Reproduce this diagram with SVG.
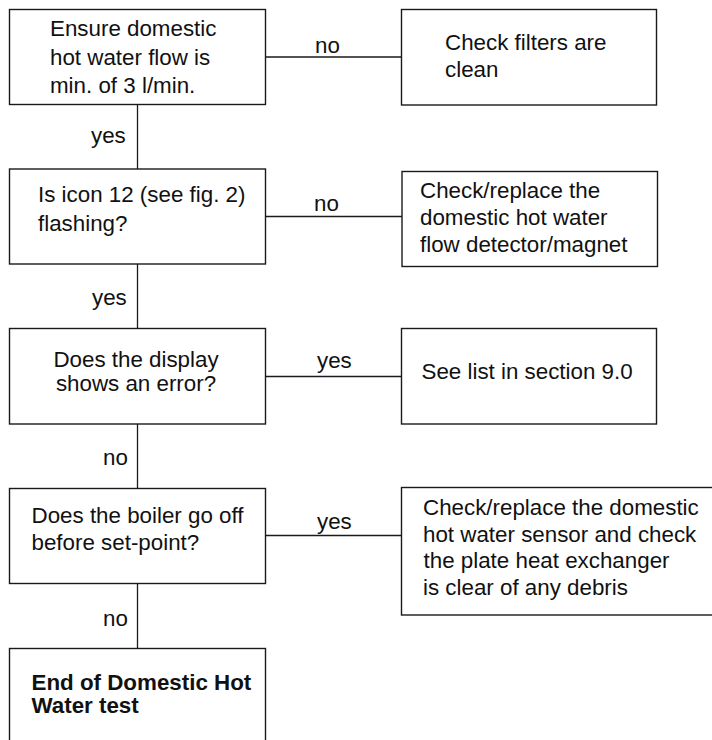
<svg xmlns="http://www.w3.org/2000/svg" width="712" height="740" viewBox="0 0 712 740">
<style>
  .box{fill:#fff;stroke:#1a1a1a;stroke-width:1.4}
  .wire{stroke:#1a1a1a;stroke-width:1.3;fill:none}
  text{font-family:"Liberation Sans",Arial,sans-serif;font-size:21.5px;fill:#111}
  .b{font-weight:bold}
  .m{text-anchor:middle}
</style>
<rect width="712" height="740" fill="#fff"/>
<g id="connectors">
  <line class="wire" x1="137.5" y1="104.5" x2="137.5" y2="169"/>
  <line class="wire" x1="137.5" y1="264" x2="137.5" y2="328.5"/>
  <line class="wire" x1="137.5" y1="424" x2="137.5" y2="488.5"/>
  <line class="wire" x1="137.5" y1="583.5" x2="137.5" y2="648.5"/>
  <line class="wire" x1="265.5" y1="57" x2="401.5" y2="57"/>
  <line class="wire" x1="265.5" y1="216.5" x2="402" y2="216.5"/>
  <line class="wire" x1="265.5" y1="376.5" x2="401.5" y2="376.5"/>
  <line class="wire" x1="265.5" y1="535.5" x2="401.5" y2="535.5"/>
  <text transform="translate(315,53) scale(1.04,1)">no</text>
  <text transform="translate(91,143) scale(1.04,1)">yes</text>
  <text transform="translate(314,211) scale(1.04,1)">no</text>
  <text transform="translate(92,305) scale(1.04,1)">yes</text>
  <text transform="translate(317,368) scale(1.04,1)">yes</text>
  <text transform="translate(103,465) scale(1.04,1)">no</text>
  <text transform="translate(317,529) scale(1.04,1)">yes</text>
  <text transform="translate(103,626) scale(1.04,1)">no</text>
</g>
<g id="n1">
  <rect class="box" x="9.5" y="9.5" width="256" height="95"/>
  <text transform="translate(50,36) scale(1.04,1)"><tspan x="0">Ensure domestic</tspan><tspan x="0" dy="29">hot water flow is</tspan><tspan x="0" dy="28">min. of 3 l/min.</tspan></text>
</g>
<g id="n1r">
  <rect class="box" x="401.5" y="9.5" width="255" height="95.5"/>
  <text transform="translate(445,50) scale(1.04,1)"><tspan x="0">Check filters are</tspan><tspan x="0" dy="27">clean</tspan></text>
</g>
<g id="n2">
  <rect class="box" x="9.5" y="169" width="256" height="95"/>
  <text transform="translate(38,201.5) scale(1.04,1)"><tspan x="0">Is icon 12 (see fig. 2)</tspan><tspan x="0" dy="30">flashing?</tspan></text>
</g>
<g id="n2r">
  <rect class="box" x="402" y="171.5" width="255.5" height="95"/>
  <text transform="translate(420,198) scale(1.04,1)"><tspan x="0">Check/replace the</tspan><tspan x="0" dy="27">domestic hot water</tspan><tspan x="0" dy="27">flow detector/magnet</tspan></text>
</g>
<g id="n3">
  <rect class="box" x="9.5" y="328.5" width="256" height="95.5"/>
  <text class="m" transform="translate(136,366.5) scale(1.04,1)"><tspan x="0">Does the display</tspan><tspan x="0" dy="25">shows an error?</tspan></text>
</g>
<g id="n3r">
  <rect class="box" x="401.5" y="328.5" width="255" height="95.5"/>
  <text transform="translate(421.5,379) scale(1.04,1)">See list in section 9.0</text>
</g>
<g id="n4">
  <rect class="box" x="9.5" y="488.5" width="256" height="95"/>
  <text transform="translate(31.5,522.5) scale(1.04,1)"><tspan x="0">Does the boiler go off</tspan><tspan x="0" dy="27.5">before set-point?</tspan></text>
</g>
<g id="n4r">
  <rect class="box" x="401.5" y="487.5" width="320" height="127.5"/>
  <text transform="translate(423,515) scale(1.04,1)"><tspan x="0">Check/replace the domestic</tspan><tspan x="0" dy="26.7">hot water sensor and check</tspan><tspan x="0.5" dy="26.7">the plate heat exchanger</tspan><tspan x="0" dy="26.7">is clear of any debris</tspan></text>
</g>
<g id="n5">
  <rect class="box" x="9.5" y="648.5" width="256" height="100"/>
  <text class="b" transform="translate(31.5,690) scale(1.04,1)"><tspan x="0">End of Domestic Hot</tspan><tspan x="0" dy="23.5">Water test</tspan></text>
</g>
</svg>
